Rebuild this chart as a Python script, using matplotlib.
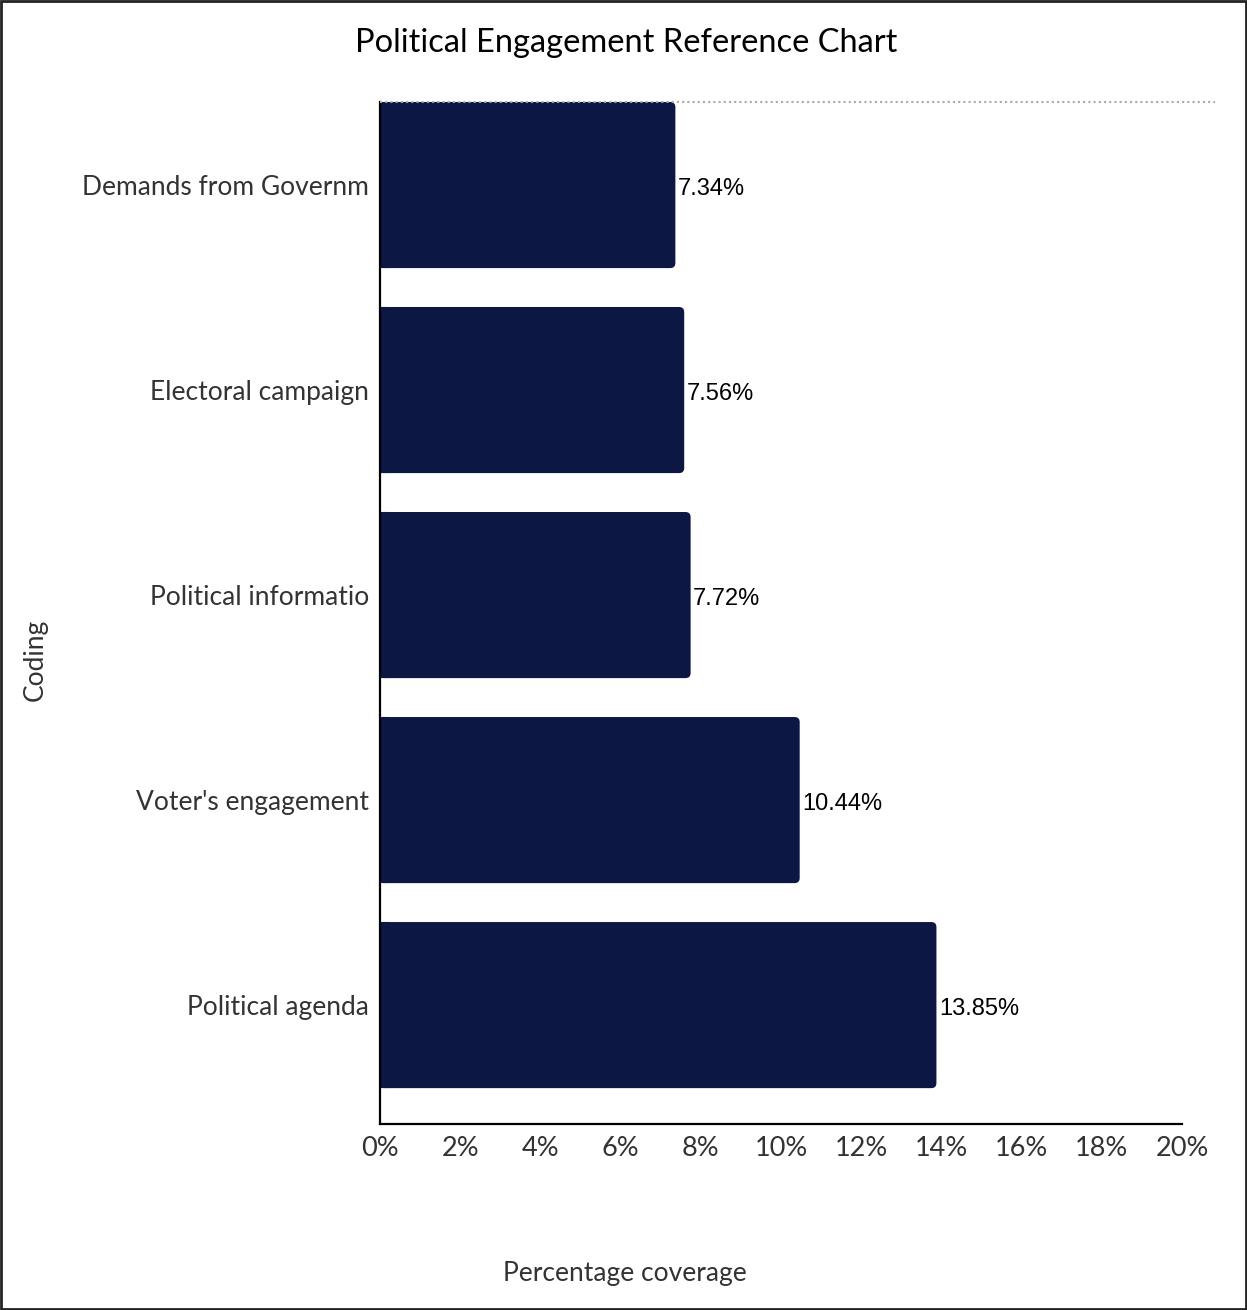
import matplotlib
matplotlib.use("Agg")
import matplotlib.pyplot as plt
from matplotlib.patches import FancyBboxPatch, Rectangle
from matplotlib.ticker import FuncFormatter

# coverage per coding category, top to bottom
categories = ["Demands from Governm", "Electoral campaign", "Political informatio",
              "Voter's engagement", "Political agenda"]
coverage = [7.34, 7.56, 7.72, 10.44, 13.85]
x_ticks = [0, 2, 4, 6, 8, 10, 12, 14, 16, 18, 20]

bar_color = "#0c1744"
text_color = "#333333"

fig = plt.figure(figsize=(12.47, 13.10), dpi=100)
W, H = 1247, 1310
# plot area in pixels: x 380..1182, y 102..1124
ax = fig.add_axes([380 / W, 1 - 1124 / H, (1182 - 380) / W, (1124 - 102) / H])

ypos = list(range(len(categories)))
bar_h = 0.80
for y, v in zip(ypos, coverage):
    patch = FancyBboxPatch((0, y - bar_h / 2), v, bar_h,
                           boxstyle="round,pad=0,rounding_size=0.1",
                           mutation_aspect=0.195, facecolor=bar_color,
                           edgecolor=bar_color, linewidth=1.5, zorder=2)
    ax.add_patch(patch)
    # square off the left edge against the axis
    ax.add_patch(Rectangle((0, y - bar_h / 2), 0.2, bar_h, facecolor=bar_color,
                           edgecolor=bar_color, linewidth=1.5, zorder=2))
    ax.text(v + 0.09, y + 0.02, f"{v:.2f}%", va="center", ha="left",
            fontsize=17, family="Liberation Sans", color="black")

ax.set_xlim(0, 20)
ax.set_ylim(4.58, -0.405)
ax.set_yticks(ypos)
ax.set_yticklabels(categories, family="Lato", fontsize=19, color=text_color)
ax.set_xticks(x_ticks)
ax.xaxis.set_major_formatter(FuncFormatter(lambda v, p: f"{v:.0f}%"))
for lab in ax.get_xticklabels():
    lab.set_family("Lato")
    lab.set_fontsize(19.5)
    lab.set_color(text_color)
ax.tick_params(axis="both", length=0)
ax.tick_params(axis="y", pad=8)
ax.tick_params(axis="x", pad=9)

for s in ["top", "right"]:
    ax.spines[s].set_visible(False)
for s in ["left", "bottom"]:
    ax.spines[s].set_color("black")
    ax.spines[s].set_linewidth(1.6)
    ax.spines[s].set_zorder(3)

# dotted reference line along the top of the plot area
fig.add_artist(plt.Line2D([380 / W, 1215 / W], [1 - 102 / H, 1 - 102 / H],
                          color="#aaaaaa", linestyle=(0, (1, 1.5)), linewidth=1.5))

fig.text(626 / W, 1 - 43 / H, "Political Engagement Reference Chart",
         ha="center", va="center", family="Lato", fontsize=23.5, color="black")
fig.text(625 / W, 1 - 1273 / H, "Percentage coverage", ha="center", va="center",
         family="Lato", fontsize=19, color=text_color)
fig.text(35 / W, 1 - 660 / H, "Coding", ha="center", va="center", rotation=90,
         family="Lato", fontsize=19, color=text_color)

# frame around the whole figure
fig.add_artist(Rectangle((0.001, 0.001), 0.998, 0.998, transform=fig.transFigure,
                         fill=False, edgecolor="#222222", linewidth=2))

fig.savefig("out.png", dpi=100)
